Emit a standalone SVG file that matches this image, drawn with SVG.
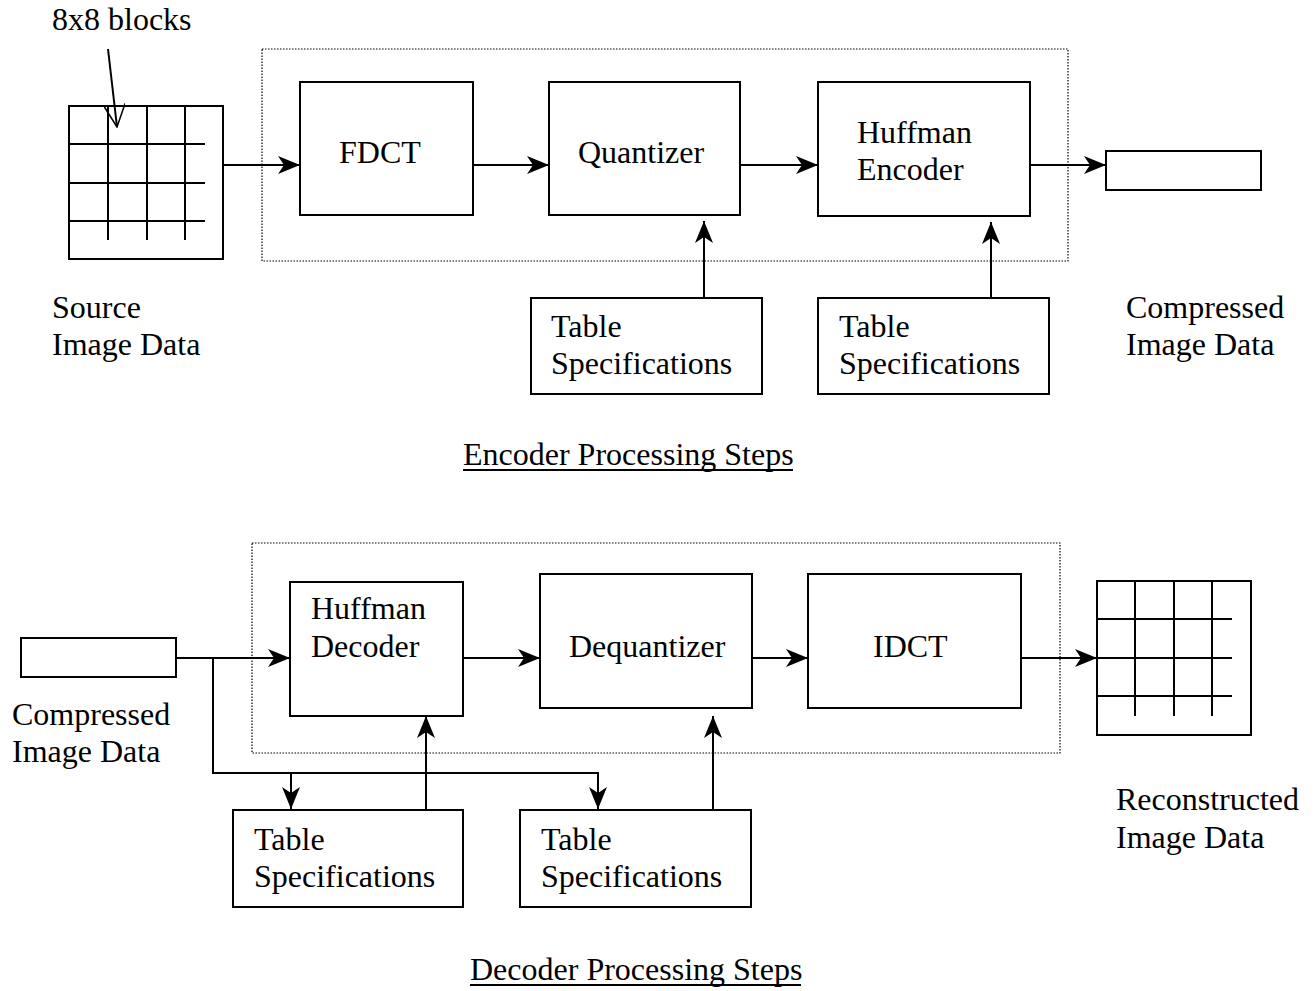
<svg xmlns="http://www.w3.org/2000/svg" width="1315" height="991" viewBox="0 0 1315 991">
<style>
text{font-family:"Liberation Serif","Times New Roman",serif;font-size:32px;fill:#000}
.b{fill:#fff;stroke:#000;stroke-width:2}
.g{fill:none;stroke:#000;stroke-width:2}
.d{fill:none;stroke:#000;stroke-width:1.2;stroke-dasharray:1.5 1.5}
.c{fill:none;stroke:#000;stroke-width:2}
</style>
<defs>
<marker id="a" viewBox="0 0 22 18" refX="22" refY="9" markerWidth="22" markerHeight="18" markerUnits="userSpaceOnUse" orient="auto">
<path d="M0,0 L22,9 L0,18 L6,9 Z" fill="#000"/>
</marker>
<marker id="o" viewBox="0 0 24 22" refX="23" refY="11" markerWidth="24" markerHeight="22" markerUnits="userSpaceOnUse" orient="auto">
<path d="M0,0 L23,11 L0,22" fill="none" stroke="#000" stroke-width="1.5"/>
</marker>
</defs>

<g id="encoder-frame"><rect class="d" x="262" y="49" width="806" height="212"/></g>
<g id="decoder-frame"><rect class="d" x="252" y="543" width="808" height="210"/></g>

<g id="source-grid">
<rect class="g" x="69" y="106" width="154" height="153"/>
<path class="g" d="M108,106V240M147,106V240M185,106V240M69,144H205M69,183H205M69,221H205"/>
<text x="52" y="318">Source</text>
<text x="52" y="355">Image Data</text>
</g>
<g id="label-8x8"><text x="52" y="30">8x8 blocks</text></g>

<g id="fdct"><rect class="b" x="300" y="82" width="173" height="133"/><text x="339" y="163">FDCT</text></g>
<g id="quantizer"><rect class="b" x="549" y="82" width="191" height="133"/><text x="578" y="163">Quantizer</text></g>
<g id="huffman-encoder"><rect class="b" x="818" y="82" width="212" height="134"/><text x="857" y="143">Huffman</text><text x="857" y="180">Encoder</text></g>
<g id="table-spec-1"><rect class="b" x="531" y="298" width="231" height="96"/><text x="551" y="337">Table</text><text x="551" y="374">Specifications</text></g>
<g id="table-spec-2"><rect class="b" x="818" y="298" width="231" height="96"/><text x="839" y="337">Table</text><text x="839" y="374">Specifications</text></g>
<g id="compressed-out"><rect class="b" x="1106" y="151" width="155" height="39"/><text x="1126" y="318">Compressed</text><text x="1126" y="355">Image Data</text></g>
<g id="encoder-caption"><text x="463" y="465">Encoder Processing Steps</text><path class="c" d="M463,470H793"/></g>

<g id="compressed-in"><rect class="b" x="21" y="638" width="155" height="39"/><text x="12" y="725">Compressed</text><text x="12" y="762">Image Data</text></g>
<g id="huffman-decoder"><rect class="b" x="290" y="582" width="173" height="134"/><text x="311" y="619">Huffman</text><text x="311" y="657">Decoder</text></g>
<g id="dequantizer"><rect class="b" x="540" y="574" width="212" height="134"/><text x="569" y="657">Dequantizer</text></g>
<g id="idct"><rect class="b" x="808" y="574" width="213" height="134"/><text x="873" y="657">IDCT</text></g>
<g id="table-spec-3"><rect class="b" x="233" y="810" width="230" height="97"/><text x="254" y="850">Table</text><text x="254" y="887">Specifications</text></g>
<g id="table-spec-4"><rect class="b" x="520" y="810" width="231" height="97"/><text x="541" y="850">Table</text><text x="541" y="887">Specifications</text></g>
<g id="reconstructed-grid">
<rect class="g" x="1097" y="581" width="154" height="154"/>
<path class="g" d="M1135,581V716M1174,581V716M1212,581V716M1097,619H1232M1097,658H1232M1097,696H1232"/>
<text x="1116" y="810">Reconstructed</text>
<text x="1116" y="848">Image Data</text>
</g>
<g id="decoder-caption"><text x="470" y="980">Decoder Processing Steps</text><path class="c" d="M470,985H801"/></g>

<g id="connectors">
<path class="c" d="M108,49L117,127" marker-end="url(#o)"/>
<path class="c" d="M223,165H300" marker-end="url(#a)"/>
<path class="c" d="M473,165H549" marker-end="url(#a)"/>
<path class="c" d="M740,165H818" marker-end="url(#a)"/>
<path class="c" d="M1030,165H1106" marker-end="url(#a)"/>
<path class="c" d="M704,298V221" marker-end="url(#a)"/>
<path class="c" d="M991,298V222" marker-end="url(#a)"/>
<path class="c" d="M176,658H290" marker-end="url(#a)"/>
<path class="c" d="M213,658V773H598V809" marker-end="url(#a)"/>
<path class="c" d="M291,773V809" marker-end="url(#a)"/>
<path class="c" d="M426,810V716" marker-end="url(#a)"/>
<path class="c" d="M713,810V716" marker-end="url(#a)"/>
<path class="c" d="M463,658H540" marker-end="url(#a)"/>
<path class="c" d="M752,658H808" marker-end="url(#a)"/>
<path class="c" d="M1021,658H1097" marker-end="url(#a)"/>
</g>
</svg>
